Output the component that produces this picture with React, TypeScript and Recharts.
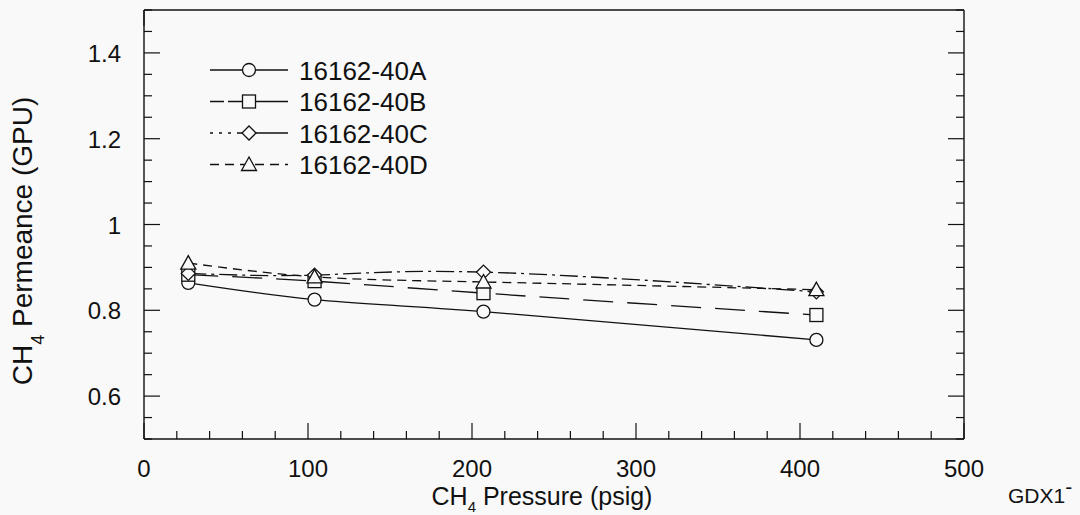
import React from "react";
import { LineChart, Line, XAxis, YAxis, Customized } from "recharts";

// CH4 permeance vs. feed pressure, four membrane samples
const pressure = [27, 104, 207, 410];
const permA = [0.864, 0.825, 0.797, 0.731];
const permB = [0.883, 0.868, 0.84, 0.789];
const permC = [0.886, 0.882, 0.889, 0.843];
const permD = [0.91, 0.878, 0.866, 0.848];

const seriesNames = ["16162-40A", "16162-40B", "16162-40C", "16162-40D"];

const xTicks = [
  0, 20, 40, 60, 80, 100, 120, 140, 160, 180, 200, 220, 240, 260, 280, 300,
  320, 340, 360, 380, 400, 420, 440, 460, 480, 500,
];
const xLabels = [0, 100, 200, 300, 400, 500];
const yTicks = [
  0.5, 0.55, 0.6, 0.65, 0.7, 0.75, 0.8, 0.85, 0.9, 0.95, 1, 1.05, 1.1, 1.15,
  1.2, 1.25, 1.3, 1.35, 1.4, 1.45, 1.5,
];
const yLabels = [0.6, 0.8, 1, 1.2, 1.4];

const data = pressure.map((p, i) => ({
  pressure: p,
  a: permA[i],
  b: permB[i],
  c: permC[i],
  d: permD[i],
}));

const BG = "#f9f9f9";
const INK = "#111";
const FONT = "'Liberation Sans', Arial, Helvetica, sans-serif";
const MAJOR = 16;
const MINOR = 8;

type Shape = "circle" | "square" | "diamond" | "triangle";

const SERIES: { key: string; dash?: string; legendDash?: string; shape: Shape }[] = [
  { key: "a", shape: "circle" },
  { key: "b", dash: "30 14", legendDash: "14 4 60", shape: "square" },
  { key: "c", dash: "18 5 3 5", legendDash: "3 6 3 6 3 6 60", shape: "diamond" },
  { key: "d", dash: "9 6", shape: "triangle" },
];

const isLabelX = (v: number) => xLabels.some((l) => Math.abs(l - v) < 1e-6);
const isLabelY = (v: number) => yLabels.some((l) => Math.abs(l - v) < 1e-6);

function Marker({ shape, cx, cy }: { shape: Shape; cx: number; cy: number }) {
  const common = { fill: BG, stroke: INK, strokeWidth: 1.3 };
  if (shape === "circle") return <circle cx={cx} cy={cy} r={6.5} {...common} />;
  if (shape === "square")
    return <rect x={cx - 6.5} y={cy - 6.5} width={13} height={13} {...common} />;
  if (shape === "diamond")
    return (
      <polygon
        points={`${cx},${cy - 7} ${cx + 7},${cy} ${cx},${cy + 7} ${cx - 7},${cy}`}
        {...common}
      />
    );
  return (
    <polygon
      points={`${cx},${cy - 7.5} ${cx + 7.5},${cy + 6} ${cx - 7.5},${cy + 6}`}
      {...common}
    />
  );
}

const BottomTick = (props: any) => {
  const { x, y, payload } = props;
  const major = isLabelX(payload.value);
  return (
    <g>
      <line x1={x} y1={y} x2={x} y2={y - (major ? MAJOR : MINOR)} stroke={INK} strokeWidth={1.2} />
      {major && (
        <text x={x} y={y + 38} textAnchor="middle" fontSize={24} fontFamily={FONT} fill={INK}>
          {payload.value}
        </text>
      )}
    </g>
  );
};

const TopTick = (props: any) => {
  const { x, y, payload } = props;
  const major = isLabelX(payload.value);
  return <line x1={x} y1={y} x2={x} y2={y + (major ? MAJOR : MINOR)} stroke={INK} strokeWidth={1.2} />;
};

const LeftTick = (props: any) => {
  const { x, y, payload } = props;
  const major = isLabelY(payload.value);
  return (
    <g>
      <line x1={x} y1={y} x2={x + (major ? MAJOR : MINOR)} y2={y} stroke={INK} strokeWidth={1.2} />
      {major && (
        <text x={x - 23} y={y + 9} textAnchor="end" fontSize={24} fontFamily={FONT} fill={INK}>
          {payload.value}
        </text>
      )}
    </g>
  );
};

const RightTick = (props: any) => {
  const { x, y, payload } = props;
  const major = isLabelY(payload.value);
  return <line x1={x} y1={y} x2={x - (major ? MAJOR : MINOR)} y2={y} stroke={INK} strokeWidth={1.2} />;
};

const Decorations = () => (
  <g fontFamily={FONT} fill={INK}>
    {SERIES.map((s, i) => {
      const cy = 70 + i * 31.5;
      return (
        <g key={s.key}>
          <line
            x1={210}
            y1={cy}
            x2={288}
            y2={cy}
            stroke={INK}
            strokeWidth={1.3}
            strokeDasharray={s.legendDash ?? s.dash}
          />
          <Marker shape={s.shape} cx={249} cy={cy} />
          <text x={299} y={cy + 9.5} fontSize={26}>
            {seriesNames[i]}
          </text>
        </g>
      );
    })}
    <text x={542} y={505} fontSize={25} textAnchor="middle">
      CH
      <tspan fontSize={15} dy={7}>4</tspan>
      <tspan dy={-7}> Pressure (psig)</tspan>
    </text>
    <text x={32} y={241} fontSize={28} textAnchor="middle" transform="rotate(-90 32 241)">
      CH
      <tspan fontSize={18} dy={12}>4</tspan>
      <tspan dy={-12}> Permeance (GPU)</tspan>
    </text>
    <text x={1008} y={503} fontSize={21}>
      GDX1<tspan dy={-9}>-</tspan>
    </text>
  </g>
);

export default function App() {
  return (
    <div style={{ position: "absolute", left: 0, top: 0, width: 1080, height: 515, background: BG }}>
      <LineChart
        width={1080}
        height={515}
        data={data}
        margin={{ top: 9, right: 115, bottom: 75, left: 143 }}
      >
        <XAxis
          dataKey="pressure"
          type="number"
          domain={[0, 500]}
          ticks={xTicks}
          interval={0}
          height={1}
          tickSize={0}
          tickMargin={0}
          tickLine={false}
          tick={BottomTick}
          axisLine={{ stroke: INK, strokeWidth: 1.4 }}
        />
        <XAxis
          xAxisId="top"
          orientation="top"
          type="number"
          domain={[0, 500]}
          allowDataOverflow
          ticks={xTicks}
          interval={0}
          height={1}
          tickSize={0}
          tickMargin={0}
          tickLine={false}
          tick={TopTick}
          axisLine={{ stroke: INK, strokeWidth: 1.4 }}
        />
        <YAxis
          type="number"
          domain={[0.5, 1.5]}
          ticks={yTicks}
          interval={0}
          width={1}
          tickSize={0}
          tickMargin={0}
          tickLine={false}
          tick={LeftTick}
          axisLine={{ stroke: INK, strokeWidth: 1.4 }}
        />
        <YAxis
          yAxisId="right"
          orientation="right"
          type="number"
          domain={[0.5, 1.5]}
          allowDataOverflow
          ticks={yTicks}
          interval={0}
          width={1}
          tickSize={0}
          tickMargin={0}
          tickLine={false}
          tick={RightTick}
          axisLine={{ stroke: INK, strokeWidth: 1.4 }}
        />
        {SERIES.map((s) => (
          <Line
            key={s.key}
            dataKey={s.key}
            type="natural"
            stroke={INK}
            strokeWidth={1.3}
            strokeDasharray={s.dash}
            isAnimationActive={false}
            dot={(p: any) => <Marker key={`${s.key}-${p.index}`} shape={s.shape} cx={p.cx} cy={p.cy} />}
            activeDot={false}
          />
        ))}
        <Customized component={Decorations} />
      </LineChart>
    </div>
  );
}
